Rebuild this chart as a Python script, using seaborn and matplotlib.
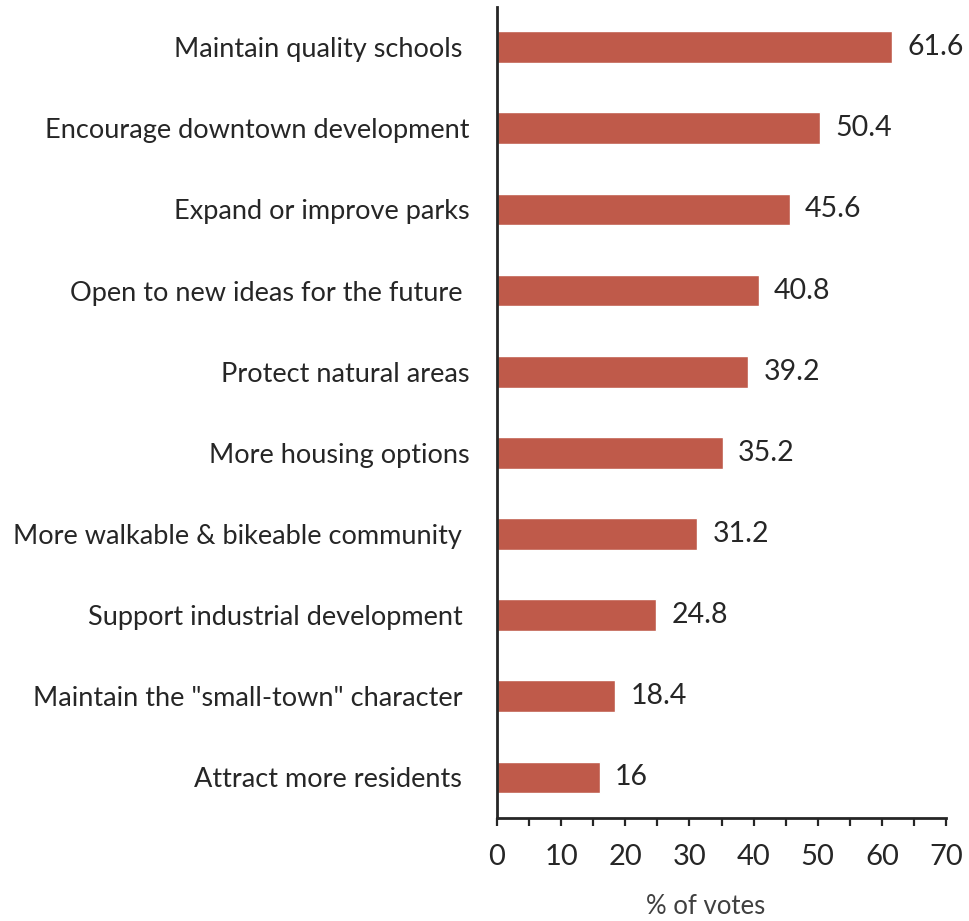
import matplotlib
matplotlib.use("Agg")
import matplotlib.pyplot as plt
from matplotlib.ticker import MultipleLocator
import seaborn as sns
import pandas as pd

categories = [
    "Maintain quality schools ",
    "Encourage downtown development",
    "Expand or improve parks",
    "Open to new ideas for the future ",
    "Protect natural areas",
    "More housing options",
    "More walkable & bikeable community ",
    "Support industrial development ",
    'Maintain the "small-town" character ',
    "Attract more residents ",
]
values = [61.6, 50.4, 45.6, 40.8, 39.2, 35.2, 31.2, 24.8, 18.4, 16]
value_labels = ["61.6", "50.4", "45.6", "40.8", "39.2", "35.2", "31.2", "24.8", "18.4", "16"]
x_ticks = [0, 10, 20, 30, 40, 50, 60, 70]

sns.set_style("white")
plt.rcParams["font.family"] = ["Lato", "DejaVu Sans"]

df = pd.DataFrame({"category": categories, "value": values})

fig = plt.figure(figsize=(9.7, 9.21), dpi=100)
ax = fig.add_axes([0.5124, 0.1118, 0.4629, 0.8811])

sns.barplot(data=df, x="value", y="category", orient="h", color="#BF5A4A",
            saturation=1, width=0.39, ax=ax)

ax.set_xlim(0, 70)
ax.set_ylim(len(categories) - 0.5, -0.5)
ax.set_xticks(x_ticks)
ax.xaxis.set_minor_locator(MultipleLocator(5))
ax.tick_params(axis="x", which="both", direction="out", length=6, width=1.6,
               color="#262626", labelsize=21, labelcolor="#262626", pad=13, bottom=True)
ax.tick_params(axis="y", length=0, labelsize=19.5, labelcolor="#262626", pad=20)

for s in ["top", "right"]:
    ax.spines[s].set_visible(False)
for s in ["left", "bottom"]:
    ax.spines[s].set_color("#262626")
    ax.spines[s].set_linewidth(2)

ax.set_xlabel("% of votes", fontsize=18.5, color="#404040", labelpad=18)
ax.xaxis.set_label_coords(0.465, -0.094)
ax.set_ylabel("")

for i, (v, lab) in enumerate(zip(values, value_labels)):
    ax.text(v + 2.4, i, lab, va="center", ha="left", fontsize=20.5, color="#262626")

fig.savefig("out.png", dpi=100)
